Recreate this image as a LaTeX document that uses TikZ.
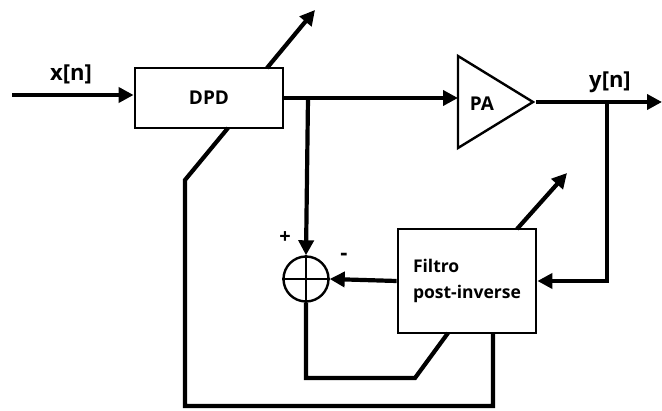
\documentclass[tikz,border=0pt]{standalone}
\usepackage{fontspec}
\setmainfont{Open Sans}
\usetikzlibrary{arrows.meta,calc}
\begin{document}
\begin{tikzpicture}[x=1pt,y=-1pt,
  wire/.style={line width=4.2pt,line cap=butt,line join=miter},
  arr/.style={wire,-{Triangle[length=15pt,width=15pt]}},
  blk/.style={draw,line width=2.8pt,rectangle,inner sep=0pt},
  lbl/.style={font=\bfseries\fontsize{19}{22}\selectfont,inner sep=0pt},
  sig/.style={font=\bfseries\fontsize{22}{25}\selectfont,inner sep=0pt}]
\useasboundingbox (0,0) rectangle (662,411);
% blocks
\node[blk,minimum width=138pt,minimum height=104pt,align=left,
      font=\bfseries\fontsize{17.5}{26}\selectfont] (filt) at (467,281) {Filtro\\post-inverse};
\node[blk,minimum width=148pt,minimum height=60pt,lbl] (dpd) at (209,98) {DPD};
\node[draw,circle,line width=2.4pt,minimum size=45pt,inner sep=0pt] (sum) at (306,279) {};
\draw[line width=2.2pt] (sum.north) -- (sum.south) (sum.west) -- (sum.east);
% PA triangle
\coordinate (pain) at (458,98);
\coordinate (paout) at (536,102);
\draw[line width=2.4pt,line join=miter] (458,56) -- (533,102) -- (458,148) -- cycle;
\node[lbl] (pa) at (482,104) {PA};
% signal labels
\node[sig] (xl) at (71,74) {x[n]};
\node[sig] (yl) at (610,82) {y[n]};
\node[font=\bfseries\fontsize{20}{20}\selectfont,inner sep=0pt] (plus) at (285,238) {+};
\node[font=\bfseries\fontsize{22}{22}\selectfont,inner sep=0pt] (minus) at (344,257) {-};
% coordinates
\coordinate (xin) at (12,95);
\coordinate (b1) at (308,98);
\coordinate (b2) at (607,102);
\coordinate (yout) at (662,102);
\coordinate (d1) at (267,68);
\coordinate (d2) at (315,10);
\coordinate (d3) at (228,128);
\coordinate (d4) at (185,180);
\coordinate (d5) at (185,406);
\coordinate (d6) at (493,406);
\coordinate (d7) at (493,333);
\coordinate (f1) at (517,229);
\coordinate (f2) at (567,173);
\coordinate (f3) at (448,333);
\coordinate (f4) at (415,378);
\coordinate (f5) at (306,378);
% connectors
\draw[arr] (xin) -- (xin -| dpd.west);
\draw[arr] (dpd.east |- b1) -- (pain);
\draw[arr] (b1) -- (sum.north);
\draw[arr] (paout) -- (yout);
\draw[arr] (b2) |- (filt.east);
\draw[arr] (filt.west) -- (sum.east);
\draw[arr] (d1) -- (d2);
\draw[wire] (d3) -- (d4) -- (d5) -- (d6) -- (d7);
\draw[arr] (f1) -- (f2);
\draw[wire] (sum.south) -- (f5) -- (f4) -- (f3);
\end{tikzpicture}
\end{document}
